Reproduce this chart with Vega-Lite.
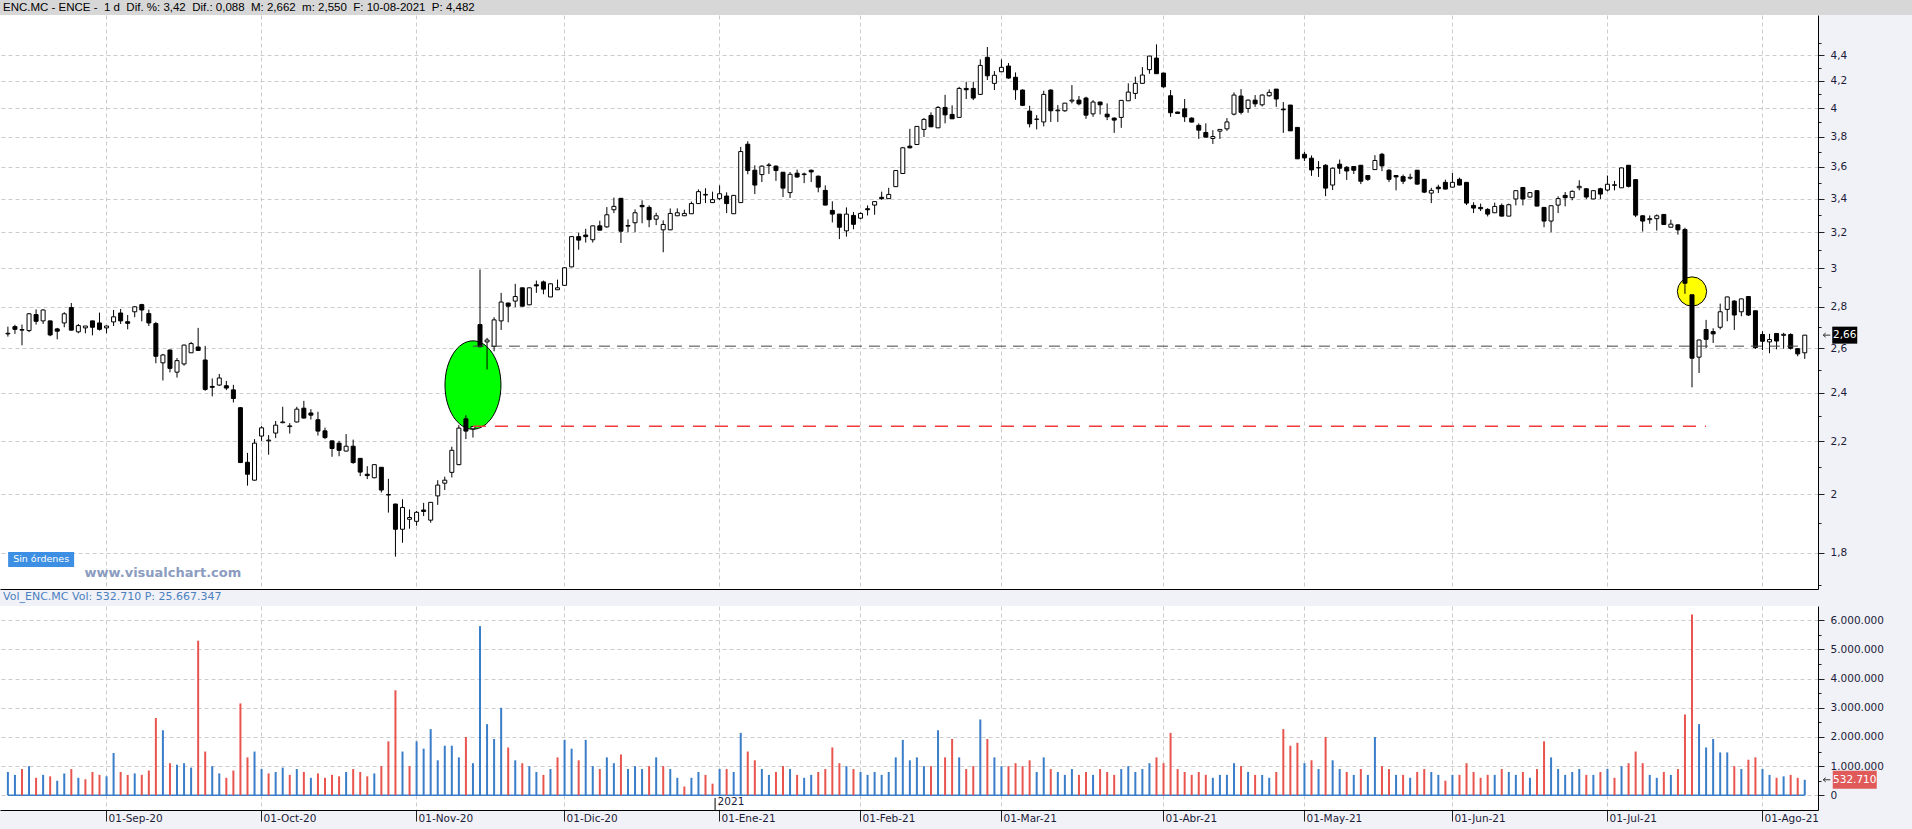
{
"$schema": "https://vega.github.io/schema/vega-lite/v6.json",
"padding": 0,
"background": "#f1f2f7",
"spacing": 0,
"config": {
  "font": "DejaVu Sans",
  "view": {"stroke": null, "fill": "#ffffff"},
  "axis": {"labelFont": "DejaVu Sans", "labelFontSize": 10.5, "labelColor": "#1c1c3a", "domainColor": "#000000", "tickColor": "#222222", "gridColor": "#cccccc", "gridDash": [4, 3], "gridWidth": 1, "title": null}
},
"datasets": {
"k": [
{"d":"2020-08-12","o":2.667,"h":2.702,"l":2.654,"c":2.670,"v":800000},
{"d":"2020-08-13","o":2.702,"h":2.711,"l":2.667,"c":2.689,"v":700000},
{"d":"2020-08-14","o":2.685,"h":2.712,"l":2.613,"c":2.688,"v":900000},
{"d":"2020-08-17","o":2.683,"h":2.768,"l":2.675,"c":2.765,"v":1000000},
{"d":"2020-08-18","o":2.761,"h":2.787,"l":2.712,"c":2.728,"v":600000},
{"d":"2020-08-19","o":2.730,"h":2.787,"l":2.715,"c":2.784,"v":700000},
{"d":"2020-08-20","o":2.730,"h":2.731,"l":2.656,"c":2.662,"v":650000},
{"d":"2020-08-21","o":2.691,"h":2.696,"l":2.641,"c":2.680,"v":500000},
{"d":"2020-08-24","o":2.720,"h":2.773,"l":2.699,"c":2.765,"v":750000},
{"d":"2020-08-25","o":2.796,"h":2.819,"l":2.684,"c":2.685,"v":900000},
{"d":"2020-08-26","o":2.677,"h":2.715,"l":2.670,"c":2.707,"v":600000},
{"d":"2020-08-27","o":2.696,"h":2.705,"l":2.670,"c":2.705,"v":550000},
{"d":"2020-08-28","o":2.730,"h":2.731,"l":2.660,"c":2.699,"v":800000},
{"d":"2020-08-31","o":2.720,"h":2.771,"l":2.683,"c":2.689,"v":700000},
{"d":"2020-09-01","o":2.696,"h":2.707,"l":2.670,"c":2.705,"v":650000},
{"d":"2020-09-02","o":2.725,"h":2.784,"l":2.705,"c":2.750,"v":1450000},
{"d":"2020-09-03","o":2.769,"h":2.789,"l":2.715,"c":2.730,"v":800000},
{"d":"2020-09-04","o":2.726,"h":2.759,"l":2.689,"c":2.718,"v":700000},
{"d":"2020-09-07","o":2.775,"h":2.803,"l":2.748,"c":2.800,"v":750000},
{"d":"2020-09-08","o":2.811,"h":2.815,"l":2.728,"c":2.784,"v":700000},
{"d":"2020-09-09","o":2.766,"h":2.786,"l":2.705,"c":2.720,"v":850000},
{"d":"2020-09-10","o":2.717,"h":2.725,"l":2.530,"c":2.562,"v":2650000},
{"d":"2020-09-11","o":2.532,"h":2.573,"l":2.453,"c":2.568,"v":2230000},
{"d":"2020-09-14","o":2.591,"h":2.593,"l":2.489,"c":2.507,"v":1100000},
{"d":"2020-09-15","o":2.490,"h":2.554,"l":2.466,"c":2.542,"v":1050000},
{"d":"2020-09-16","o":2.527,"h":2.616,"l":2.519,"c":2.614,"v":1100000},
{"d":"2020-09-17","o":2.578,"h":2.629,"l":2.578,"c":2.621,"v":950000},
{"d":"2020-09-18","o":2.605,"h":2.696,"l":2.588,"c":2.589,"v":5300000},
{"d":"2020-09-21","o":2.545,"h":2.610,"l":2.408,"c":2.414,"v":1500000},
{"d":"2020-09-22","o":2.427,"h":2.462,"l":2.384,"c":2.423,"v":1000000},
{"d":"2020-09-23","o":2.433,"h":2.482,"l":2.429,"c":2.464,"v":750000},
{"d":"2020-09-24","o":2.430,"h":2.451,"l":2.411,"c":2.420,"v":600000},
{"d":"2020-09-25","o":2.412,"h":2.434,"l":2.358,"c":2.375,"v":850000},
{"d":"2020-09-28","o":2.336,"h":2.339,"l":2.115,"c":2.117,"v":3150000},
{"d":"2020-09-29","o":2.118,"h":2.154,"l":2.031,"c":2.073,"v":1300000},
{"d":"2020-09-30","o":2.051,"h":2.208,"l":2.049,"c":2.192,"v":1500000},
{"d":"2020-10-01","o":2.220,"h":2.260,"l":2.201,"c":2.253,"v":900000},
{"d":"2020-10-02","o":2.201,"h":2.224,"l":2.147,"c":2.204,"v":750000},
{"d":"2020-10-05","o":2.232,"h":2.281,"l":2.212,"c":2.264,"v":800000},
{"d":"2020-10-06","o":2.274,"h":2.340,"l":2.272,"c":2.277,"v":950000},
{"d":"2020-10-07","o":2.258,"h":2.272,"l":2.230,"c":2.261,"v":700000},
{"d":"2020-10-08","o":2.277,"h":2.340,"l":2.275,"c":2.330,"v":900000},
{"d":"2020-10-09","o":2.334,"h":2.365,"l":2.291,"c":2.293,"v":800000},
{"d":"2020-10-12","o":2.314,"h":2.330,"l":2.287,"c":2.305,"v":600000},
{"d":"2020-10-13","o":2.286,"h":2.319,"l":2.222,"c":2.240,"v":750000},
{"d":"2020-10-14","o":2.241,"h":2.254,"l":2.208,"c":2.214,"v":600000},
{"d":"2020-10-15","o":2.201,"h":2.202,"l":2.139,"c":2.171,"v":700000},
{"d":"2020-10-16","o":2.192,"h":2.201,"l":2.141,"c":2.164,"v":650000},
{"d":"2020-10-19","o":2.161,"h":2.228,"l":2.160,"c":2.180,"v":800000},
{"d":"2020-10-20","o":2.180,"h":2.206,"l":2.112,"c":2.117,"v":900000},
{"d":"2020-10-21","o":2.133,"h":2.134,"l":2.066,"c":2.081,"v":800000},
{"d":"2020-10-22","o":2.073,"h":2.103,"l":2.055,"c":2.068,"v":650000},
{"d":"2020-10-23","o":2.060,"h":2.110,"l":2.058,"c":2.109,"v":750000},
{"d":"2020-10-26","o":2.099,"h":2.100,"l":2.006,"c":2.015,"v":1000000},
{"d":"2020-10-27","o":1.997,"h":2.056,"l":1.935,"c":1.999,"v":1850000},
{"d":"2020-10-28","o":1.965,"h":1.966,"l":1.788,"c":1.878,"v":3600000},
{"d":"2020-10-29","o":1.878,"h":1.982,"l":1.833,"c":1.953,"v":1500000},
{"d":"2020-10-30","o":1.912,"h":1.946,"l":1.880,"c":1.918,"v":1000000},
{"d":"2020-11-02","o":1.905,"h":1.941,"l":1.890,"c":1.936,"v":1850000},
{"d":"2020-11-03","o":1.944,"h":1.969,"l":1.923,"c":1.939,"v":1600000},
{"d":"2020-11-04","o":1.909,"h":1.972,"l":1.900,"c":1.971,"v":2270000},
{"d":"2020-11-05","o":1.994,"h":2.051,"l":1.962,"c":2.033,"v":1200000},
{"d":"2020-11-06","o":2.040,"h":2.064,"l":2.015,"c":2.051,"v":1700000},
{"d":"2020-11-09","o":2.080,"h":2.178,"l":2.061,"c":2.164,"v":1700000},
{"d":"2020-11-10","o":2.109,"h":2.264,"l":2.107,"c":2.252,"v":1300000},
{"d":"2020-11-11","o":2.290,"h":2.305,"l":2.208,"c":2.240,"v":2000000},
{"d":"2020-11-12","o":2.249,"h":2.260,"l":2.214,"c":2.258,"v":1100000},
{"d":"2020-11-13","o":2.712,"h":2.994,"l":2.604,"c":2.606,"v":5800000},
{"d":"2020-11-16","o":2.629,"h":2.648,"l":2.502,"c":2.638,"v":2440000},
{"d":"2020-11-17","o":2.608,"h":2.748,"l":2.585,"c":2.735,"v":1930000},
{"d":"2020-11-18","o":2.730,"h":2.871,"l":2.686,"c":2.824,"v":3000000},
{"d":"2020-11-19","o":2.819,"h":2.820,"l":2.723,"c":2.803,"v":1640000},
{"d":"2020-11-20","o":2.829,"h":2.918,"l":2.798,"c":2.852,"v":1200000},
{"d":"2020-11-23","o":2.897,"h":2.898,"l":2.801,"c":2.803,"v":1100000},
{"d":"2020-11-24","o":2.810,"h":2.899,"l":2.808,"c":2.897,"v":1000000},
{"d":"2020-11-25","o":2.913,"h":2.935,"l":2.871,"c":2.907,"v":800000},
{"d":"2020-11-26","o":2.928,"h":2.935,"l":2.864,"c":2.890,"v":700000},
{"d":"2020-11-27","o":2.850,"h":2.921,"l":2.849,"c":2.918,"v":900000},
{"d":"2020-11-30","o":2.887,"h":2.940,"l":2.886,"c":2.897,"v":1300000},
{"d":"2020-12-01","o":2.910,"h":3.006,"l":2.907,"c":3.003,"v":1900000},
{"d":"2020-12-02","o":3.008,"h":3.177,"l":3.006,"c":3.176,"v":1600000},
{"d":"2020-12-03","o":3.176,"h":3.198,"l":3.102,"c":3.156,"v":1200000},
{"d":"2020-12-04","o":3.185,"h":3.221,"l":3.142,"c":3.176,"v":1900000},
{"d":"2020-12-07","o":3.158,"h":3.240,"l":3.142,"c":3.238,"v":1000000},
{"d":"2020-12-08","o":3.238,"h":3.268,"l":3.212,"c":3.213,"v":900000},
{"d":"2020-12-09","o":3.232,"h":3.349,"l":3.227,"c":3.303,"v":1300000},
{"d":"2020-12-10","o":3.333,"h":3.406,"l":3.313,"c":3.353,"v":1100000},
{"d":"2020-12-11","o":3.402,"h":3.404,"l":3.140,"c":3.207,"v":1400000},
{"d":"2020-12-14","o":3.236,"h":3.276,"l":3.201,"c":3.240,"v":900000},
{"d":"2020-12-15","o":3.256,"h":3.335,"l":3.201,"c":3.315,"v":1000000},
{"d":"2020-12-16","o":3.359,"h":3.390,"l":3.253,"c":3.351,"v":900000},
{"d":"2020-12-17","o":3.347,"h":3.359,"l":3.230,"c":3.274,"v":1000000},
{"d":"2020-12-18","o":3.277,"h":3.315,"l":3.242,"c":3.297,"v":1300000},
{"d":"2020-12-21","o":3.215,"h":3.270,"l":3.088,"c":3.246,"v":1000000},
{"d":"2020-12-22","o":3.215,"h":3.341,"l":3.213,"c":3.311,"v":900000},
{"d":"2020-12-23","o":3.297,"h":3.341,"l":3.296,"c":3.315,"v":600000},
{"d":"2020-12-24","o":3.297,"h":3.333,"l":3.296,"c":3.311,"v":300000},
{"d":"2020-12-28","o":3.309,"h":3.382,"l":3.308,"c":3.370,"v":600000},
{"d":"2020-12-29","o":3.370,"h":3.457,"l":3.369,"c":3.443,"v":800000},
{"d":"2020-12-30","o":3.422,"h":3.464,"l":3.373,"c":3.426,"v":700000},
{"d":"2020-12-31","o":3.376,"h":3.443,"l":3.375,"c":3.394,"v":400000},
{"d":"2021-01-04","o":3.400,"h":3.482,"l":3.392,"c":3.430,"v":900000},
{"d":"2021-01-05","o":3.416,"h":3.439,"l":3.313,"c":3.370,"v":900000},
{"d":"2021-01-06","o":3.309,"h":3.421,"l":3.308,"c":3.420,"v":800000},
{"d":"2021-01-07","o":3.376,"h":3.731,"l":3.375,"c":3.700,"v":2140000},
{"d":"2021-01-08","o":3.749,"h":3.769,"l":3.552,"c":3.576,"v":1500000},
{"d":"2021-01-11","o":3.578,"h":3.610,"l":3.428,"c":3.484,"v":1200000},
{"d":"2021-01-12","o":3.550,"h":3.610,"l":3.503,"c":3.604,"v":900000},
{"d":"2021-01-13","o":3.608,"h":3.625,"l":3.554,"c":3.612,"v":700000},
{"d":"2021-01-14","o":3.604,"h":3.610,"l":3.510,"c":3.576,"v":800000},
{"d":"2021-01-15","o":3.565,"h":3.567,"l":3.410,"c":3.465,"v":1000000},
{"d":"2021-01-18","o":3.437,"h":3.567,"l":3.404,"c":3.552,"v":900000},
{"d":"2021-01-19","o":3.559,"h":3.582,"l":3.529,"c":3.535,"v":700000},
{"d":"2021-01-20","o":3.550,"h":3.563,"l":3.496,"c":3.554,"v":600000},
{"d":"2021-01-21","o":3.578,"h":3.582,"l":3.503,"c":3.567,"v":700000},
{"d":"2021-01-22","o":3.540,"h":3.544,"l":3.439,"c":3.471,"v":800000},
{"d":"2021-01-25","o":3.451,"h":3.482,"l":3.360,"c":3.361,"v":900000},
{"d":"2021-01-26","o":3.329,"h":3.384,"l":3.258,"c":3.307,"v":1640000},
{"d":"2021-01-27","o":3.307,"h":3.308,"l":3.162,"c":3.230,"v":1100000},
{"d":"2021-01-28","o":3.209,"h":3.347,"l":3.176,"c":3.307,"v":1000000},
{"d":"2021-01-29","o":3.299,"h":3.319,"l":3.218,"c":3.247,"v":900000},
{"d":"2021-02-01","o":3.283,"h":3.317,"l":3.277,"c":3.311,"v":800000},
{"d":"2021-02-02","o":3.339,"h":3.359,"l":3.299,"c":3.333,"v":700000},
{"d":"2021-02-03","o":3.361,"h":3.383,"l":3.303,"c":3.382,"v":800000},
{"d":"2021-02-04","o":3.408,"h":3.443,"l":3.392,"c":3.400,"v":700000},
{"d":"2021-02-05","o":3.400,"h":3.467,"l":3.399,"c":3.426,"v":800000},
{"d":"2021-02-08","o":3.474,"h":3.577,"l":3.473,"c":3.576,"v":1300000},
{"d":"2021-02-09","o":3.557,"h":3.731,"l":3.556,"c":3.725,"v":1900000},
{"d":"2021-02-10","o":3.736,"h":3.854,"l":3.721,"c":3.725,"v":1200000},
{"d":"2021-02-11","o":3.747,"h":3.873,"l":3.746,"c":3.871,"v":1300000},
{"d":"2021-02-12","o":3.850,"h":3.929,"l":3.798,"c":3.920,"v":1000000},
{"d":"2021-02-15","o":3.948,"h":3.970,"l":3.866,"c":3.868,"v":1000000},
{"d":"2021-02-16","o":3.861,"h":4.015,"l":3.860,"c":4.005,"v":2230000},
{"d":"2021-02-17","o":4.005,"h":4.097,"l":3.892,"c":3.952,"v":1300000},
{"d":"2021-02-18","o":3.955,"h":4.020,"l":3.923,"c":3.924,"v":1930000},
{"d":"2021-02-19","o":3.934,"h":4.156,"l":3.933,"c":4.144,"v":1300000},
{"d":"2021-02-22","o":4.144,"h":4.194,"l":4.066,"c":4.134,"v":900000},
{"d":"2021-02-23","o":4.144,"h":4.194,"l":4.058,"c":4.073,"v":1000000},
{"d":"2021-02-24","o":4.100,"h":4.366,"l":4.099,"c":4.319,"v":2600000},
{"d":"2021-02-25","o":4.382,"h":4.464,"l":4.207,"c":4.239,"v":1930000},
{"d":"2021-02-26","o":4.182,"h":4.275,"l":4.132,"c":4.243,"v":1300000},
{"d":"2021-03-01","o":4.270,"h":4.366,"l":4.269,"c":4.304,"v":1000000},
{"d":"2021-03-02","o":4.314,"h":4.337,"l":4.217,"c":4.222,"v":1000000},
{"d":"2021-03-03","o":4.228,"h":4.265,"l":4.060,"c":4.134,"v":1100000},
{"d":"2021-03-04","o":4.132,"h":4.137,"l":4.015,"c":4.020,"v":1000000},
{"d":"2021-03-05","o":3.979,"h":4.017,"l":3.864,"c":3.889,"v":1200000},
{"d":"2021-03-08","o":3.920,"h":3.950,"l":3.850,"c":3.922,"v":800000},
{"d":"2021-03-09","o":3.902,"h":4.127,"l":3.871,"c":4.100,"v":1300000},
{"d":"2021-03-10","o":4.132,"h":4.137,"l":3.902,"c":3.981,"v":900000},
{"d":"2021-03-11","o":3.981,"h":4.022,"l":3.902,"c":3.986,"v":800000},
{"d":"2021-03-12","o":3.981,"h":4.038,"l":3.974,"c":4.036,"v":700000},
{"d":"2021-03-15","o":4.051,"h":4.169,"l":4.034,"c":4.058,"v":900000},
{"d":"2021-03-16","o":4.058,"h":4.088,"l":4.020,"c":4.031,"v":700000},
{"d":"2021-03-17","o":4.073,"h":4.083,"l":3.924,"c":3.950,"v":800000},
{"d":"2021-03-18","o":3.959,"h":4.058,"l":3.938,"c":4.044,"v":700000},
{"d":"2021-03-19","o":4.044,"h":4.046,"l":3.955,"c":4.024,"v":900000},
{"d":"2021-03-22","o":3.957,"h":4.034,"l":3.915,"c":3.938,"v":800000},
{"d":"2021-03-23","o":3.929,"h":3.934,"l":3.826,"c":3.915,"v":700000},
{"d":"2021-03-24","o":3.934,"h":4.058,"l":3.861,"c":4.056,"v":900000},
{"d":"2021-03-25","o":4.053,"h":4.182,"l":4.052,"c":4.117,"v":1000000},
{"d":"2021-03-26","o":4.107,"h":4.232,"l":4.066,"c":4.182,"v":800000},
{"d":"2021-03-29","o":4.182,"h":4.306,"l":4.181,"c":4.245,"v":900000},
{"d":"2021-03-30","o":4.286,"h":4.393,"l":4.255,"c":4.392,"v":1100000},
{"d":"2021-03-31","o":4.376,"h":4.485,"l":4.254,"c":4.255,"v":1300000},
{"d":"2021-04-01","o":4.260,"h":4.262,"l":4.149,"c":4.156,"v":1100000},
{"d":"2021-04-06","o":4.090,"h":4.132,"l":3.938,"c":3.967,"v":2140000},
{"d":"2021-04-07","o":3.972,"h":3.974,"l":3.961,"c":3.962,"v":900000},
{"d":"2021-04-08","o":3.995,"h":4.066,"l":3.902,"c":3.938,"v":800000},
{"d":"2021-04-09","o":3.929,"h":3.934,"l":3.900,"c":3.901,"v":700000},
{"d":"2021-04-12","o":3.878,"h":3.892,"l":3.785,"c":3.845,"v":800000},
{"d":"2021-04-13","o":3.829,"h":3.892,"l":3.796,"c":3.797,"v":700000},
{"d":"2021-04-14","o":3.788,"h":3.845,"l":3.751,"c":3.801,"v":600000},
{"d":"2021-04-15","o":3.838,"h":3.852,"l":3.785,"c":3.850,"v":700000},
{"d":"2021-04-16","o":3.854,"h":3.929,"l":3.840,"c":3.902,"v":700000},
{"d":"2021-04-19","o":3.957,"h":4.115,"l":3.948,"c":4.095,"v":1100000},
{"d":"2021-04-20","o":4.088,"h":4.139,"l":3.955,"c":3.970,"v":1000000},
{"d":"2021-04-21","o":3.998,"h":4.063,"l":3.967,"c":4.058,"v":800000},
{"d":"2021-04-22","o":4.058,"h":4.095,"l":4.009,"c":4.031,"v":700000},
{"d":"2021-04-23","o":4.024,"h":4.100,"l":4.012,"c":4.095,"v":700000},
{"d":"2021-04-26","o":4.090,"h":4.137,"l":4.083,"c":4.115,"v":600000},
{"d":"2021-04-27","o":4.139,"h":4.140,"l":4.009,"c":4.066,"v":800000},
{"d":"2021-04-28","o":3.993,"h":4.044,"l":3.826,"c":3.988,"v":2270000},
{"d":"2021-04-29","o":4.022,"h":4.023,"l":3.839,"c":3.840,"v":1700000},
{"d":"2021-04-30","o":3.864,"h":3.865,"l":3.651,"c":3.652,"v":1800000},
{"d":"2021-05-03","o":3.682,"h":3.698,"l":3.638,"c":3.658,"v":1100000},
{"d":"2021-05-04","o":3.656,"h":3.674,"l":3.542,"c":3.580,"v":1200000},
{"d":"2021-05-05","o":3.593,"h":3.637,"l":3.535,"c":3.595,"v":900000},
{"d":"2021-05-06","o":3.610,"h":3.617,"l":3.415,"c":3.465,"v":2000000},
{"d":"2021-05-07","o":3.484,"h":3.595,"l":3.453,"c":3.591,"v":1200000},
{"d":"2021-05-10","o":3.617,"h":3.647,"l":3.554,"c":3.591,"v":900000},
{"d":"2021-05-11","o":3.597,"h":3.604,"l":3.516,"c":3.573,"v":800000},
{"d":"2021-05-12","o":3.602,"h":3.604,"l":3.554,"c":3.578,"v":700000},
{"d":"2021-05-13","o":3.610,"h":3.612,"l":3.490,"c":3.508,"v":900000},
{"d":"2021-05-14","o":3.544,"h":3.546,"l":3.510,"c":3.520,"v":700000},
{"d":"2021-05-17","o":3.582,"h":3.676,"l":3.581,"c":3.641,"v":2000000},
{"d":"2021-05-18","o":3.682,"h":3.691,"l":3.572,"c":3.606,"v":1000000},
{"d":"2021-05-19","o":3.578,"h":3.585,"l":3.503,"c":3.520,"v":900000},
{"d":"2021-05-20","o":3.544,"h":3.546,"l":3.451,"c":3.535,"v":700000},
{"d":"2021-05-21","o":3.537,"h":3.550,"l":3.490,"c":3.508,"v":700000},
{"d":"2021-05-24","o":3.527,"h":3.556,"l":3.518,"c":3.533,"v":600000},
{"d":"2021-05-25","o":3.578,"h":3.580,"l":3.486,"c":3.490,"v":800000},
{"d":"2021-05-26","o":3.520,"h":3.522,"l":3.434,"c":3.440,"v":900000},
{"d":"2021-05-27","o":3.434,"h":3.467,"l":3.373,"c":3.451,"v":800000},
{"d":"2021-05-28","o":3.471,"h":3.486,"l":3.434,"c":3.461,"v":700000},
{"d":"2021-05-31","o":3.501,"h":3.518,"l":3.458,"c":3.459,"v":500000},
{"d":"2021-06-01","o":3.471,"h":3.560,"l":3.470,"c":3.501,"v":700000},
{"d":"2021-06-02","o":3.520,"h":3.531,"l":3.483,"c":3.484,"v":700000},
{"d":"2021-06-03","o":3.501,"h":3.502,"l":3.361,"c":3.373,"v":1100000},
{"d":"2021-06-04","o":3.359,"h":3.378,"l":3.313,"c":3.343,"v":800000},
{"d":"2021-06-07","o":3.347,"h":3.370,"l":3.325,"c":3.339,"v":600000},
{"d":"2021-06-08","o":3.335,"h":3.343,"l":3.293,"c":3.307,"v":700000},
{"d":"2021-06-09","o":3.315,"h":3.376,"l":3.314,"c":3.353,"v":700000},
{"d":"2021-06-10","o":3.359,"h":3.370,"l":3.294,"c":3.295,"v":900000},
{"d":"2021-06-11","o":3.295,"h":3.370,"l":3.294,"c":3.363,"v":800000},
{"d":"2021-06-14","o":3.398,"h":3.451,"l":3.359,"c":3.449,"v":700000},
{"d":"2021-06-15","o":3.469,"h":3.470,"l":3.359,"c":3.398,"v":800000},
{"d":"2021-06-16","o":3.410,"h":3.441,"l":3.406,"c":3.437,"v":600000},
{"d":"2021-06-17","o":3.449,"h":3.451,"l":3.354,"c":3.355,"v":900000},
{"d":"2021-06-18","o":3.347,"h":3.349,"l":3.230,"c":3.266,"v":1850000},
{"d":"2021-06-21","o":3.266,"h":3.359,"l":3.201,"c":3.357,"v":1300000},
{"d":"2021-06-22","o":3.361,"h":3.414,"l":3.313,"c":3.400,"v":900000},
{"d":"2021-06-23","o":3.420,"h":3.441,"l":3.353,"c":3.406,"v":700000},
{"d":"2021-06-24","o":3.406,"h":3.451,"l":3.390,"c":3.445,"v":800000},
{"d":"2021-06-25","o":3.467,"h":3.514,"l":3.451,"c":3.476,"v":900000},
{"d":"2021-06-28","o":3.461,"h":3.464,"l":3.398,"c":3.410,"v":700000},
{"d":"2021-06-29","o":3.398,"h":3.451,"l":3.397,"c":3.449,"v":700000},
{"d":"2021-06-30","o":3.461,"h":3.467,"l":3.398,"c":3.428,"v":800000},
{"d":"2021-07-01","o":3.453,"h":3.544,"l":3.445,"c":3.489,"v":900000},
{"d":"2021-07-02","o":3.482,"h":3.510,"l":3.451,"c":3.486,"v":600000},
{"d":"2021-07-05","o":3.467,"h":3.594,"l":3.466,"c":3.593,"v":1000000},
{"d":"2021-07-06","o":3.610,"h":3.611,"l":3.469,"c":3.476,"v":1100000},
{"d":"2021-07-07","o":3.518,"h":3.520,"l":3.289,"c":3.301,"v":1500000},
{"d":"2021-07-08","o":3.297,"h":3.299,"l":3.205,"c":3.266,"v":1100000},
{"d":"2021-07-09","o":3.274,"h":3.299,"l":3.250,"c":3.280,"v":700000},
{"d":"2021-07-12","o":3.280,"h":3.305,"l":3.211,"c":3.297,"v":600000},
{"d":"2021-07-13","o":3.305,"h":3.306,"l":3.245,"c":3.246,"v":800000},
{"d":"2021-07-14","o":3.230,"h":3.274,"l":3.229,"c":3.248,"v":700000},
{"d":"2021-07-15","o":3.244,"h":3.246,"l":3.187,"c":3.215,"v":900000},
{"d":"2021-07-16","o":3.217,"h":3.227,"l":2.866,"c":2.921,"v":2770000},
{"d":"2021-07-19","o":2.861,"h":2.862,"l":2.423,"c":2.553,"v":6200000},
{"d":"2021-07-20","o":2.558,"h":2.639,"l":2.486,"c":2.638,"v":2440000},
{"d":"2021-07-21","o":2.688,"h":2.735,"l":2.600,"c":2.641,"v":1640000},
{"d":"2021-07-22","o":2.678,"h":2.694,"l":2.624,"c":2.667,"v":1930000},
{"d":"2021-07-23","o":2.699,"h":2.816,"l":2.689,"c":2.775,"v":1470000},
{"d":"2021-07-26","o":2.787,"h":2.851,"l":2.728,"c":2.850,"v":1470000},
{"d":"2021-07-27","o":2.829,"h":2.833,"l":2.686,"c":2.759,"v":1000000},
{"d":"2021-07-28","o":2.775,"h":2.841,"l":2.753,"c":2.840,"v":900000},
{"d":"2021-07-29","o":2.852,"h":2.853,"l":2.754,"c":2.759,"v":1220000},
{"d":"2021-07-30","o":2.780,"h":2.781,"l":2.596,"c":2.602,"v":1300000},
{"d":"2021-08-02","o":2.664,"h":2.680,"l":2.591,"c":2.632,"v":900000},
{"d":"2021-08-03","o":2.629,"h":2.667,"l":2.576,"c":2.640,"v":700000},
{"d":"2021-08-04","o":2.669,"h":2.670,"l":2.594,"c":2.633,"v":600000},
{"d":"2021-08-05","o":2.660,"h":2.672,"l":2.597,"c":2.665,"v":650000},
{"d":"2021-08-06","o":2.664,"h":2.670,"l":2.593,"c":2.599,"v":700000},
{"d":"2021-08-09","o":2.597,"h":2.600,"l":2.562,"c":2.573,"v":600000},
{"d":"2021-08-10","o":2.578,"h":2.662,"l":2.550,"c":2.661,"v":532710}
],
"ann": [
{"kind":"ellipse","d":"2020-11-12","p":2.433},
{"kind":"circle","d":"2021-07-19","p":2.878},
{"kind":"orders","d":"2020-08-19","p":1.779,"t":"Sin órdenes"},
{"kind":"wm","d":"2020-09-11","p":1.736,"t":"www.visualchart.com"},
{"kind":"last","d":"2021-08-10","p":2.661,"t":"2,66"}
],
"lines": [
{"kind":"upper","d":"2020-11-12","d2":"2021-08-10","p":2.609},
{"kind":"lower","d":"2020-11-12","d2":"2021-07-21","p":2.26}
],
"vann": [
{"kind":"year","d":"2021-01-04","v":-230000,"t":"2021"},
{"kind":"lastvol","d":"2021-08-10","v":532710,"t":"532.710"}
],
"base": [
{"d":"2020-08-12","d2":"2021-08-10","v":0}
]
},
"vconcat": [
{
 "width": 1912, "height": 15,
 "view": {"fill": "#d7d7d7", "stroke": null},
 "data": {"values": [{"t": "ENC.MC - ENCE -\u00a0 1 d\u00a0 Dif. %: 3,42\u00a0 Dif.: 0,088\u00a0 M: 2,662\u00a0 m: 2,550\u00a0 F: 10-08-2021\u00a0 P: 4,482"}]},
 "mark": {"type": "text", "align": "left", "baseline": "middle", "fontSize": 11.5, "font": "Liberation Sans", "color": "#000000", "dx": 3},
 "encoding": {"x": {"datum": 0, "type": "quantitative", "scale": {"domain": [0, 1], "nice": false, "zero": false}, "axis": null}, "text": {"field": "t"}}
},
{
 "width": 1818, "height": 574,
 "encoding": {"x": {"field": "d", "type": "ordinal", "scale": {"type": "band", "paddingInner": 0, "paddingOuter": 1.417, "align": 0.31},
   "axis": {"orient": "bottom", "values": ["2020-09-01","2020-10-01","2020-11-02","2020-12-01","2021-01-04","2021-02-01","2021-03-01","2021-04-01","2021-05-03","2021-06-01","2021-07-01","2021-08-02"], "labels": false, "ticks": false, "domain": true, "domainColor": "#000000", "grid": true, "minExtent": 0, "maxExtent": 0, "title": null}}},
 "layer": [
  {"data": {"name": "ann"}, "transform": [{"filter": "datum.kind == 'ellipse'"}],
   "mark": {"type": "point", "shape": "M -0.633 0 A 0.633 1 0 1 0 0.633 0 A 0.633 1 0 1 0 -0.633 0 Z", "filled": true, "color": "#00ff00", "stroke": "#000000", "strokeWidth": 1, "size": 7815, "opacity": 1},
   "encoding": {"y": {"field": "p", "type": "quantitative", "scale": {"type": "log", "domain": [1.687, 4.728], "nice": false, "zero": false},
     "axis": {"orient": "right", "values": [1.7,1.8,1.9,2.0,2.1,2.2,2.3,2.4,2.5,2.6,2.7,2.8,2.9,3.0,3.1,3.2,3.3,3.4,3.5,3.6,3.7,3.8,3.9,4.0,4.1,4.2,4.3,4.4,4.5],
       "labelExpr": "round(datum.value*10)%2==0 ? replace(format(datum.value,'~g'),'.',',') : ''",
       "tickSize": {"condition": {"test": "round(datum.value*10)%2==0", "value": 6}, "value": 3},
       "gridOpacity": {"condition": {"test": "round(datum.value*10)%2==0", "value": 1}, "value": 0},
       "grid": true, "labelAlign": "left", "labelPadding": 6, "labelBaseline": "middle", "labelFlush": false, "labelOverlap": false, "minExtent": 94, "maxExtent": 94, "title": null}}}},
  {"data": {"name": "ann"}, "transform": [{"filter": "datum.kind == 'circle'"}],
   "mark": {"type": "point", "shape": "circle", "filled": true, "color": "#ffff00", "stroke": "#000000", "strokeWidth": 1, "size": 855, "opacity": 1},
   "encoding": {"y": {"field": "p", "type": "quantitative", "scale": {"type": "log", "domain": [1.687, 4.728], "nice": false, "zero": false}}}},
  {"data": {"name": "k"},
   "mark": {"type": "rule", "color": "#000000", "strokeWidth": 1},
   "encoding": {"y": {"field": "l", "type": "quantitative", "scale": {"type": "log", "domain": [1.687, 4.728], "nice": false, "zero": false}}, "y2": {"field": "h"}}},
  {"data": {"name": "k"},
   "mark": {"type": "bar", "width": 4, "stroke": "#000000", "strokeWidth": 1},
   "encoding": {"y": {"field": "o", "type": "quantitative", "scale": {"type": "log", "domain": [1.687, 4.728], "nice": false, "zero": false}}, "y2": {"field": "c"},
     "fill": {"condition": {"test": "datum.c >= datum.o", "value": "#ffffff"}, "value": "#000000"}}},
  {"data": {"name": "lines"}, "transform": [{"filter": "datum.kind == 'upper'"}],
   "mark": {"type": "rule", "color": "#444444", "strokeWidth": 1, "strokeDash": [11, 7]},
   "encoding": {"x2": {"field": "d2"}, "y": {"field": "p", "type": "quantitative", "scale": {"type": "log", "domain": [1.687, 4.728], "nice": false, "zero": false}}}},
  {"data": {"name": "lines"}, "transform": [{"filter": "datum.kind == 'lower'"}],
   "mark": {"type": "rule", "color": "#ee3b3b", "strokeWidth": 1.5, "strokeDash": [13, 9]},
   "encoding": {"x2": {"field": "d2"}, "y": {"field": "p", "type": "quantitative", "scale": {"type": "log", "domain": [1.687, 4.728], "nice": false, "zero": false}}}},
  {"data": {"name": "ann"}, "transform": [{"filter": "datum.kind == 'orders'"}],
   "mark": {"type": "point", "shape": "M -1 -0.227 L 1 -0.227 L 1 0.227 L -1 0.227 Z", "filled": true, "color": "#3d8fe3", "size": 4356, "opacity": 1, "xOffset": -2},
   "encoding": {"y": {"field": "p", "type": "quantitative", "scale": {"type": "log", "domain": [1.687, 4.728], "nice": false, "zero": false}}}},
  {"data": {"name": "ann"}, "transform": [{"filter": "datum.kind == 'orders'"}],
   "mark": {"type": "text", "color": "#ffffff", "fontSize": 9.5, "font": "DejaVu Sans", "align": "center", "baseline": "middle", "xOffset": -2},
   "encoding": {"y": {"field": "p", "type": "quantitative", "scale": {"type": "log", "domain": [1.687, 4.728], "nice": false, "zero": false}}, "text": {"field": "t"}}},
  {"data": {"name": "ann"}, "transform": [{"filter": "datum.kind == 'wm'"}],
   "mark": {"type": "text", "color": "#8b9cc0", "fontSize": 13, "fontWeight": "bold", "font": "DejaVu Sans", "align": "center", "baseline": "middle"},
   "encoding": {"y": {"field": "p", "type": "quantitative", "scale": {"type": "log", "domain": [1.687, 4.728], "nice": false, "zero": false}}, "text": {"field": "t"}}},
  {"data": {"name": "ann"}, "transform": [{"filter": "datum.kind == 'last'"}],
   "mark": {"type": "point", "shape": "M -1 -0.68 L 1 -0.68 L 1 0.68 L -1 0.68 Z", "filled": true, "color": "#000000", "size": 625, "opacity": 1, "xOffset": 40},
   "encoding": {"y": {"field": "p", "type": "quantitative", "scale": {"type": "log", "domain": [1.687, 4.728], "nice": false, "zero": false}}}},
  {"data": {"name": "ann"}, "transform": [{"filter": "datum.kind == 'last'"}],
   "mark": {"type": "point", "shape": "M 1 0 L -1 0 M -0.3 -0.6 L -1 0 L -0.3 0.6", "filled": false, "color": "#333333", "strokeWidth": 1, "size": 50, "opacity": 1, "xOffset": 22},
   "encoding": {"y": {"field": "p", "type": "quantitative", "scale": {"type": "log", "domain": [1.687, 4.728], "nice": false, "zero": false}}}},
  {"data": {"name": "ann"}, "transform": [{"filter": "datum.kind == 'last'"}],
   "mark": {"type": "text", "color": "#ffffff", "fontSize": 10.5, "font": "DejaVu Sans", "align": "center", "baseline": "middle", "xOffset": 40},
   "encoding": {"y": {"field": "p", "type": "quantitative", "scale": {"type": "log", "domain": [1.687, 4.728], "nice": false, "zero": false}}, "text": {"field": "t"}}}
 ]
},
{
 "width": 1818, "height": 204,
 "title": {"text": "Vol_ENC.MC Vol: 532.710 P: 25.667.347", "anchor": "start", "frame": "bounds", "fontSize": 11, "font": "DejaVu Sans", "fontWeight": "normal", "color": "#4a80c0", "offset": 4, "dx": 3},
 "encoding": {"x": {"field": "d", "type": "ordinal", "scale": {"type": "band", "paddingInner": 0, "paddingOuter": 1.417, "align": 0.31},
   "axis": {"orient": "bottom", "values": ["2020-09-01","2020-10-01","2020-11-02","2020-12-01","2021-01-04","2021-02-01","2021-03-01","2021-04-01","2021-05-03","2021-06-01","2021-07-01","2021-08-02"],
     "labelExpr": "'01-' + ['Ene','Feb','Mar','Abr','May','Jun','Jul','Ago','Sep','Oct','Nov','Dic'][toNumber(substring(datum.value,5,7))-1] + '-' + substring(datum.value,2,4)",
     "labelAngle": 0, "labelAlign": "left", "labelBaseline": "top", "labelPadding": -8, "labelOffset": 2, "tickSize": 11, "grid": true, "domainColor": "#000000", "minExtent": 20, "maxExtent": 20, "labelOverlap": false, "labelFlush": false, "title": null}}},
 "layer": [
  {"data": {"name": "base"},
   "mark": {"type": "rule", "color": "#3a7dc9", "strokeWidth": 1.5},
   "encoding": {"x2": {"field": "d2"}, "y": {"field": "v", "type": "quantitative", "scale": {"domain": [-504000, 6490000], "nice": false, "zero": false},
     "axis": {"orient": "right", "values": [0,500000,1000000,1500000,2000000,2500000,3000000,3500000,4000000,4500000,5000000,5500000,6000000], "labelExpr": "datum.value % 1000000 == 0 ? replace(replace(format(datum.value, ','), ',', '.'), ',', '.') : ''", "tickSize": {"condition": {"test": "datum.value % 1000000 == 0", "value": 6}, "value": 3}, "gridOpacity": {"condition": {"test": "datum.value % 1000000 == 0", "value": 1}, "value": 0}, "grid": true, "labelAlign": "left", "labelPadding": 6, "labelBaseline": "middle", "labelFlush": false, "labelOverlap": false, "minExtent": 94, "maxExtent": 94, "title": null}}}},
  {"data": {"name": "k"},
   "transform": [{"window": [{"op": "lag", "field": "c", "as": "pc"}], "sort": [{"field": "d"}]}, {"calculate": "datum.pc == null || datum.c >= datum.pc ? 'up' : 'down'", "as": "dir"}],
   "mark": {"type": "bar", "width": 2},
   "encoding": {"y": {"field": "v", "type": "quantitative", "scale": {"domain": [-504000, 6490000], "nice": false, "zero": false},
     "axis": {"orient": "right", "values": [0,500000,1000000,1500000,2000000,2500000,3000000,3500000,4000000,4500000,5000000,5500000,6000000], "labelExpr": "datum.value % 1000000 == 0 ? replace(replace(format(datum.value, ','), ',', '.'), ',', '.') : ''", "tickSize": {"condition": {"test": "datum.value % 1000000 == 0", "value": 6}, "value": 3}, "gridOpacity": {"condition": {"test": "datum.value % 1000000 == 0", "value": 1}, "value": 0}, "grid": true, "labelAlign": "left", "labelPadding": 6, "labelBaseline": "middle", "labelFlush": false, "labelOverlap": false, "minExtent": 94, "maxExtent": 94, "title": null}}, "y2": {"datum": 0},
     "color": {"field": "dir", "type": "nominal", "scale": {"domain": ["up", "down"], "range": ["#3a7dc9", "#e8554e"]}, "legend": null}}},
  {"data": {"name": "vann"}, "transform": [{"filter": "datum.kind == 'year'"}],
   "mark": {"type": "text", "color": "#1c1c3a", "fontSize": 10.5, "font": "DejaVu Sans", "align": "left", "baseline": "middle", "dx": -2},
   "encoding": {"y": {"field": "v", "type": "quantitative", "scale": {"domain": [-504000, 6490000], "nice": false, "zero": false},
     "axis": {"orient": "right", "values": [0,500000,1000000,1500000,2000000,2500000,3000000,3500000,4000000,4500000,5000000,5500000,6000000], "labelExpr": "datum.value % 1000000 == 0 ? replace(replace(format(datum.value, ','), ',', '.'), ',', '.') : ''", "tickSize": {"condition": {"test": "datum.value % 1000000 == 0", "value": 6}, "value": 3}, "gridOpacity": {"condition": {"test": "datum.value % 1000000 == 0", "value": 1}, "value": 0}, "grid": true, "labelAlign": "left", "labelPadding": 6, "labelBaseline": "middle", "labelFlush": false, "labelOverlap": false, "minExtent": 94, "maxExtent": 94, "title": null}}, "text": {"field": "t"}}},
  {"data": {"name": "vann"}, "transform": [{"filter": "datum.kind == 'year'"}],
   "mark": {"type": "rule", "color": "#000000", "strokeWidth": 1, "xOffset": -4.5},
   "encoding": {"y": {"datum": -90000, "type": "quantitative", "scale": {"domain": [-504000, 6490000], "nice": false, "zero": false},
     "axis": {"orient": "right", "values": [0,500000,1000000,1500000,2000000,2500000,3000000,3500000,4000000,4500000,5000000,5500000,6000000], "labelExpr": "datum.value % 1000000 == 0 ? replace(replace(format(datum.value, ','), ',', '.'), ',', '.') : ''", "tickSize": {"condition": {"test": "datum.value % 1000000 == 0", "value": 6}, "value": 3}, "gridOpacity": {"condition": {"test": "datum.value % 1000000 == 0", "value": 1}, "value": 0}, "grid": true, "labelAlign": "left", "labelPadding": 6, "labelBaseline": "middle", "labelFlush": false, "labelOverlap": false, "minExtent": 94, "maxExtent": 94, "title": null}}, "y2": {"datum": -504000}}},
  {"data": {"name": "vann"}, "transform": [{"filter": "datum.kind == 'lastvol'"}],
   "mark": {"type": "point", "shape": "M -1 -0.41 L 1 -0.41 L 1 0.41 L -1 0.41 Z", "filled": true, "color": "#e05a5a", "size": 1936, "opacity": 1, "xOffset": 50},
   "encoding": {"y": {"field": "v", "type": "quantitative", "scale": {"domain": [-504000, 6490000], "nice": false, "zero": false},
     "axis": {"orient": "right", "values": [0,500000,1000000,1500000,2000000,2500000,3000000,3500000,4000000,4500000,5000000,5500000,6000000], "labelExpr": "datum.value % 1000000 == 0 ? replace(replace(format(datum.value, ','), ',', '.'), ',', '.') : ''", "tickSize": {"condition": {"test": "datum.value % 1000000 == 0", "value": 6}, "value": 3}, "gridOpacity": {"condition": {"test": "datum.value % 1000000 == 0", "value": 1}, "value": 0}, "grid": true, "labelAlign": "left", "labelPadding": 6, "labelBaseline": "middle", "labelFlush": false, "labelOverlap": false, "minExtent": 94, "maxExtent": 94, "title": null}}}},
  {"data": {"name": "vann"}, "transform": [{"filter": "datum.kind == 'lastvol'"}],
   "mark": {"type": "point", "shape": "M 1 0 L -1 0 M -0.3 -0.6 L -1 0 L -0.3 0.6", "filled": false, "color": "#333333", "strokeWidth": 1, "size": 50, "opacity": 1, "xOffset": 22},
   "encoding": {"y": {"field": "v", "type": "quantitative", "scale": {"domain": [-504000, 6490000], "nice": false, "zero": false},
     "axis": {"orient": "right", "values": [0,500000,1000000,1500000,2000000,2500000,3000000,3500000,4000000,4500000,5000000,5500000,6000000], "labelExpr": "datum.value % 1000000 == 0 ? replace(replace(format(datum.value, ','), ',', '.'), ',', '.') : ''", "tickSize": {"condition": {"test": "datum.value % 1000000 == 0", "value": 6}, "value": 3}, "gridOpacity": {"condition": {"test": "datum.value % 1000000 == 0", "value": 1}, "value": 0}, "grid": true, "labelAlign": "left", "labelPadding": 6, "labelBaseline": "middle", "labelFlush": false, "labelOverlap": false, "minExtent": 94, "maxExtent": 94, "title": null}}}},
  {"data": {"name": "vann"}, "transform": [{"filter": "datum.kind == 'lastvol'"}],
   "mark": {"type": "text", "color": "#ffffff", "fontSize": 10.5, "font": "DejaVu Sans", "align": "center", "baseline": "middle", "xOffset": 50},
   "encoding": {"y": {"field": "v", "type": "quantitative", "scale": {"domain": [-504000, 6490000], "nice": false, "zero": false},
     "axis": {"orient": "right", "values": [0,500000,1000000,1500000,2000000,2500000,3000000,3500000,4000000,4500000,5000000,5500000,6000000], "labelExpr": "datum.value % 1000000 == 0 ? replace(replace(format(datum.value, ','), ',', '.'), ',', '.') : ''", "tickSize": {"condition": {"test": "datum.value % 1000000 == 0", "value": 6}, "value": 3}, "gridOpacity": {"condition": {"test": "datum.value % 1000000 == 0", "value": 1}, "value": 0}, "grid": true, "labelAlign": "left", "labelPadding": 6, "labelBaseline": "middle", "labelFlush": false, "labelOverlap": false, "minExtent": 94, "maxExtent": 94, "title": null}}, "text": {"field": "t"}}}
 ]
}
]
}
